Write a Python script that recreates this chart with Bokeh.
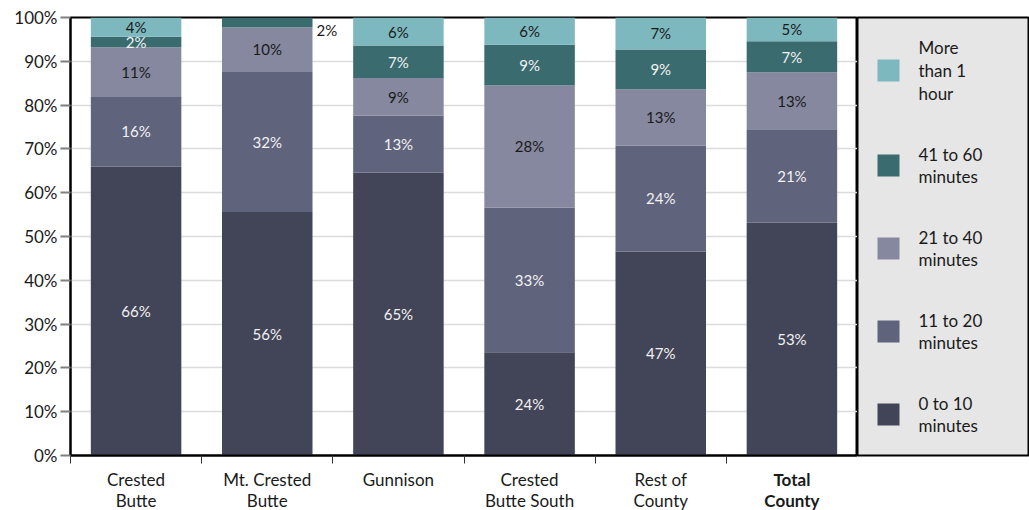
from bokeh.plotting import figure
from bokeh.layouts import row, column
from bokeh.models import Label, FixedTicker, CustomJSTickFormatter, ColumnDataSource
from bokeh.core.properties import value
from bokeh.embed import file_html
from bokeh.resources import INLINE

# Commute time shares (%) by place of residence
towns = ["Crested Butte", "Mt. Crested Butte", "Gunnison", "Crested Butte South", "Rest of County", "Total County"]
town_lines = [("Crested", "Butte"), ("Mt. Crested", "Butte"), ("Gunnison", ""),
              ("Crested", "Butte South"), ("Rest of", "County"), ("Total", "County")]
min_0_10 = [66.0, 55.6, 64.6, 23.6, 46.6, 53.2]
min_11_20 = [16.0, 32.1, 13.0, 33.0, 24.2, 21.3]
min_21_40 = [11.2, 10.0, 8.6, 27.9, 12.8, 13.0]
min_41_60 = [2.4, 2.3, 7.4, 9.3, 9.1, 7.1]
over_60 = [4.4, 0.0, 6.4, 6.2, 7.3, 5.4]

series_names = ["0 to 10\nminutes", "11 to 20\nminutes", "21 to 40\nminutes", "41 to 60\nminutes", "More\nthan 1\nhour"]
series_vals = [min_0_10, min_11_20, min_21_40, min_41_60, over_60]
colors = ["#424457", "#5f637c", "#85889f", "#3a6b6e", "#7db8bf"]
label_colors = ["#f2f2f2", "#f2f2f2", "#1a1a1a", "#f2f2f2", "#1a1a1a"]
y_ticks = list(range(0, 101, 10))

FONT = "Lato"
BAR_W = 0.69

p = figure(width=857, height=470, x_range=(0, len(towns)), y_range=(0, 100),
           output_backend="svg", toolbar_location=None,
           min_border_left=70, min_border_right=0, min_border_top=17, min_border_bottom=15)
p.outline_line_color = "black"
p.outline_line_width = 2
p.background_fill_color = "white"
p.border_fill_color = "white"

xs = [i + 0.5 for i in range(len(towns))]
data = {"x": xs}
keys = []
for k, vals in enumerate(series_vals):
    key = f"s{k}"
    keys.append(key)
    data[key] = vals
src = ColumnDataSource(data)
p.vbar_stack(keys, x="x", width=BAR_W, color=colors, line_color=None, source=src)

# Segment value labels
for i, x in enumerate(xs):
    base = 0.0
    for k, vals in enumerate(series_vals):
        v = vals[i]
        if v > 0:
            txt = f"{int(v + 0.5)}%"
            above = sum(series_vals[j][i] for j in range(k + 1, len(series_vals)))
            if v < 3 and above == 0:
                p.add_layout(Label(x=x + BAR_W / 2 + 0.03, y=base + v / 2 - 1.8, text=txt,
                                   text_font=FONT, text_font_size="15px", text_color="#1a1a1a",
                                   text_align="left", text_baseline="middle"))
            else:
                p.add_layout(Label(x=x, y=base + v / 2, text=txt,
                                   text_font=FONT, text_font_size="15px", text_color=label_colors[k],
                                   text_align="center", text_baseline="middle"))
        base += v

p.xgrid.visible = False
p.ygrid.ticker = FixedTicker(ticks=y_ticks)
p.ygrid.grid_line_color = "#dcdcdc"
p.ygrid.grid_line_width = 1.5

p.yaxis.ticker = FixedTicker(ticks=y_ticks)
p.yaxis.formatter = CustomJSTickFormatter(code="return tick + '%';")
p.yaxis.major_label_text_font = FONT
p.yaxis.major_label_text_font_size = "17px"
p.yaxis.major_label_text_color = "#1a1a1a"
p.yaxis.axis_line_color = "black"
p.yaxis.axis_line_width = 2
p.yaxis.major_tick_line_color = "#7f7f7f"
p.yaxis.major_tick_line_width = 2
p.yaxis.major_tick_out = 10
p.yaxis.major_tick_in = 0
p.yaxis.minor_tick_line_color = None
p.yaxis.major_label_standoff = 3

p.xaxis.ticker = FixedTicker(ticks=list(range(len(towns) + 1)))
p.xaxis.major_label_text_font_size = "1px"
p.xaxis.major_label_text_alpha = 0
p.xaxis.major_label_standoff = 0
p.xaxis.axis_line_color = "black"
p.xaxis.axis_line_width = 2
p.xaxis.major_tick_line_color = "#333333"
p.xaxis.major_tick_out = 8
p.xaxis.major_tick_in = 0
p.xaxis.minor_tick_line_color = None

# Category names strip under the axis
cat = figure(width=857, height=40, x_range=p.x_range, y_range=(0, 40),
             output_backend="svg", toolbar_location=None,
             min_border_left=70, min_border_right=0, min_border_top=0, min_border_bottom=0)
cat.axis.visible = False
cat.grid.visible = False
cat.outline_line_color = None
cat.background_fill_color = "white"
cat.border_fill_color = "white"
for bold in (False, True):
    lx, ly, lt = [], [], []
    for i, x in enumerate(xs):
        if (towns[i] == "Total County") != bold:
            continue
        for j, line in enumerate(town_lines[i]):
            if line:
                lx.append(x)
                ly.append(31 - 21 * j)
                lt.append(line)
    cat.text(x=lx, y=ly, text=lt, text_font=value(FONT), text_font_size="17px",
             text_font_style="bold" if bold else "normal", text_color="#1a1a1a",
             text_align="center", text_baseline="middle")

# Legend panel
lg = figure(width=172, height=510, x_range=(0, 172), y_range=(0, 438),
            output_backend="svg", toolbar_location=None,
            min_border_left=0, min_border_right=0, min_border_top=17, min_border_bottom=55)
lg.axis.visible = False
lg.grid.visible = False
lg.background_fill_color = "#e6e6e6"
lg.border_fill_color = "white"
lg.outline_line_color = "black"
lg.outline_line_width = 2

item_y = [41, 124, 207, 290, 385]  # distance up from the panel bottom, bottom item first
lg.rect(x=[31] * 5, y=item_y, width=22, height=22, color=colors, line_color=None)
lg.text(x=[61] * 5, y=item_y, text=series_names, text_font=value(FONT), text_font_size="17px",
        text_color="#1a1a1a", text_align="left", text_baseline="middle", text_line_height=1.08)

layout = row(column(p, cat, spacing=0), lg, spacing=0)
open("out.html", "w").write(file_html(layout, INLINE))
